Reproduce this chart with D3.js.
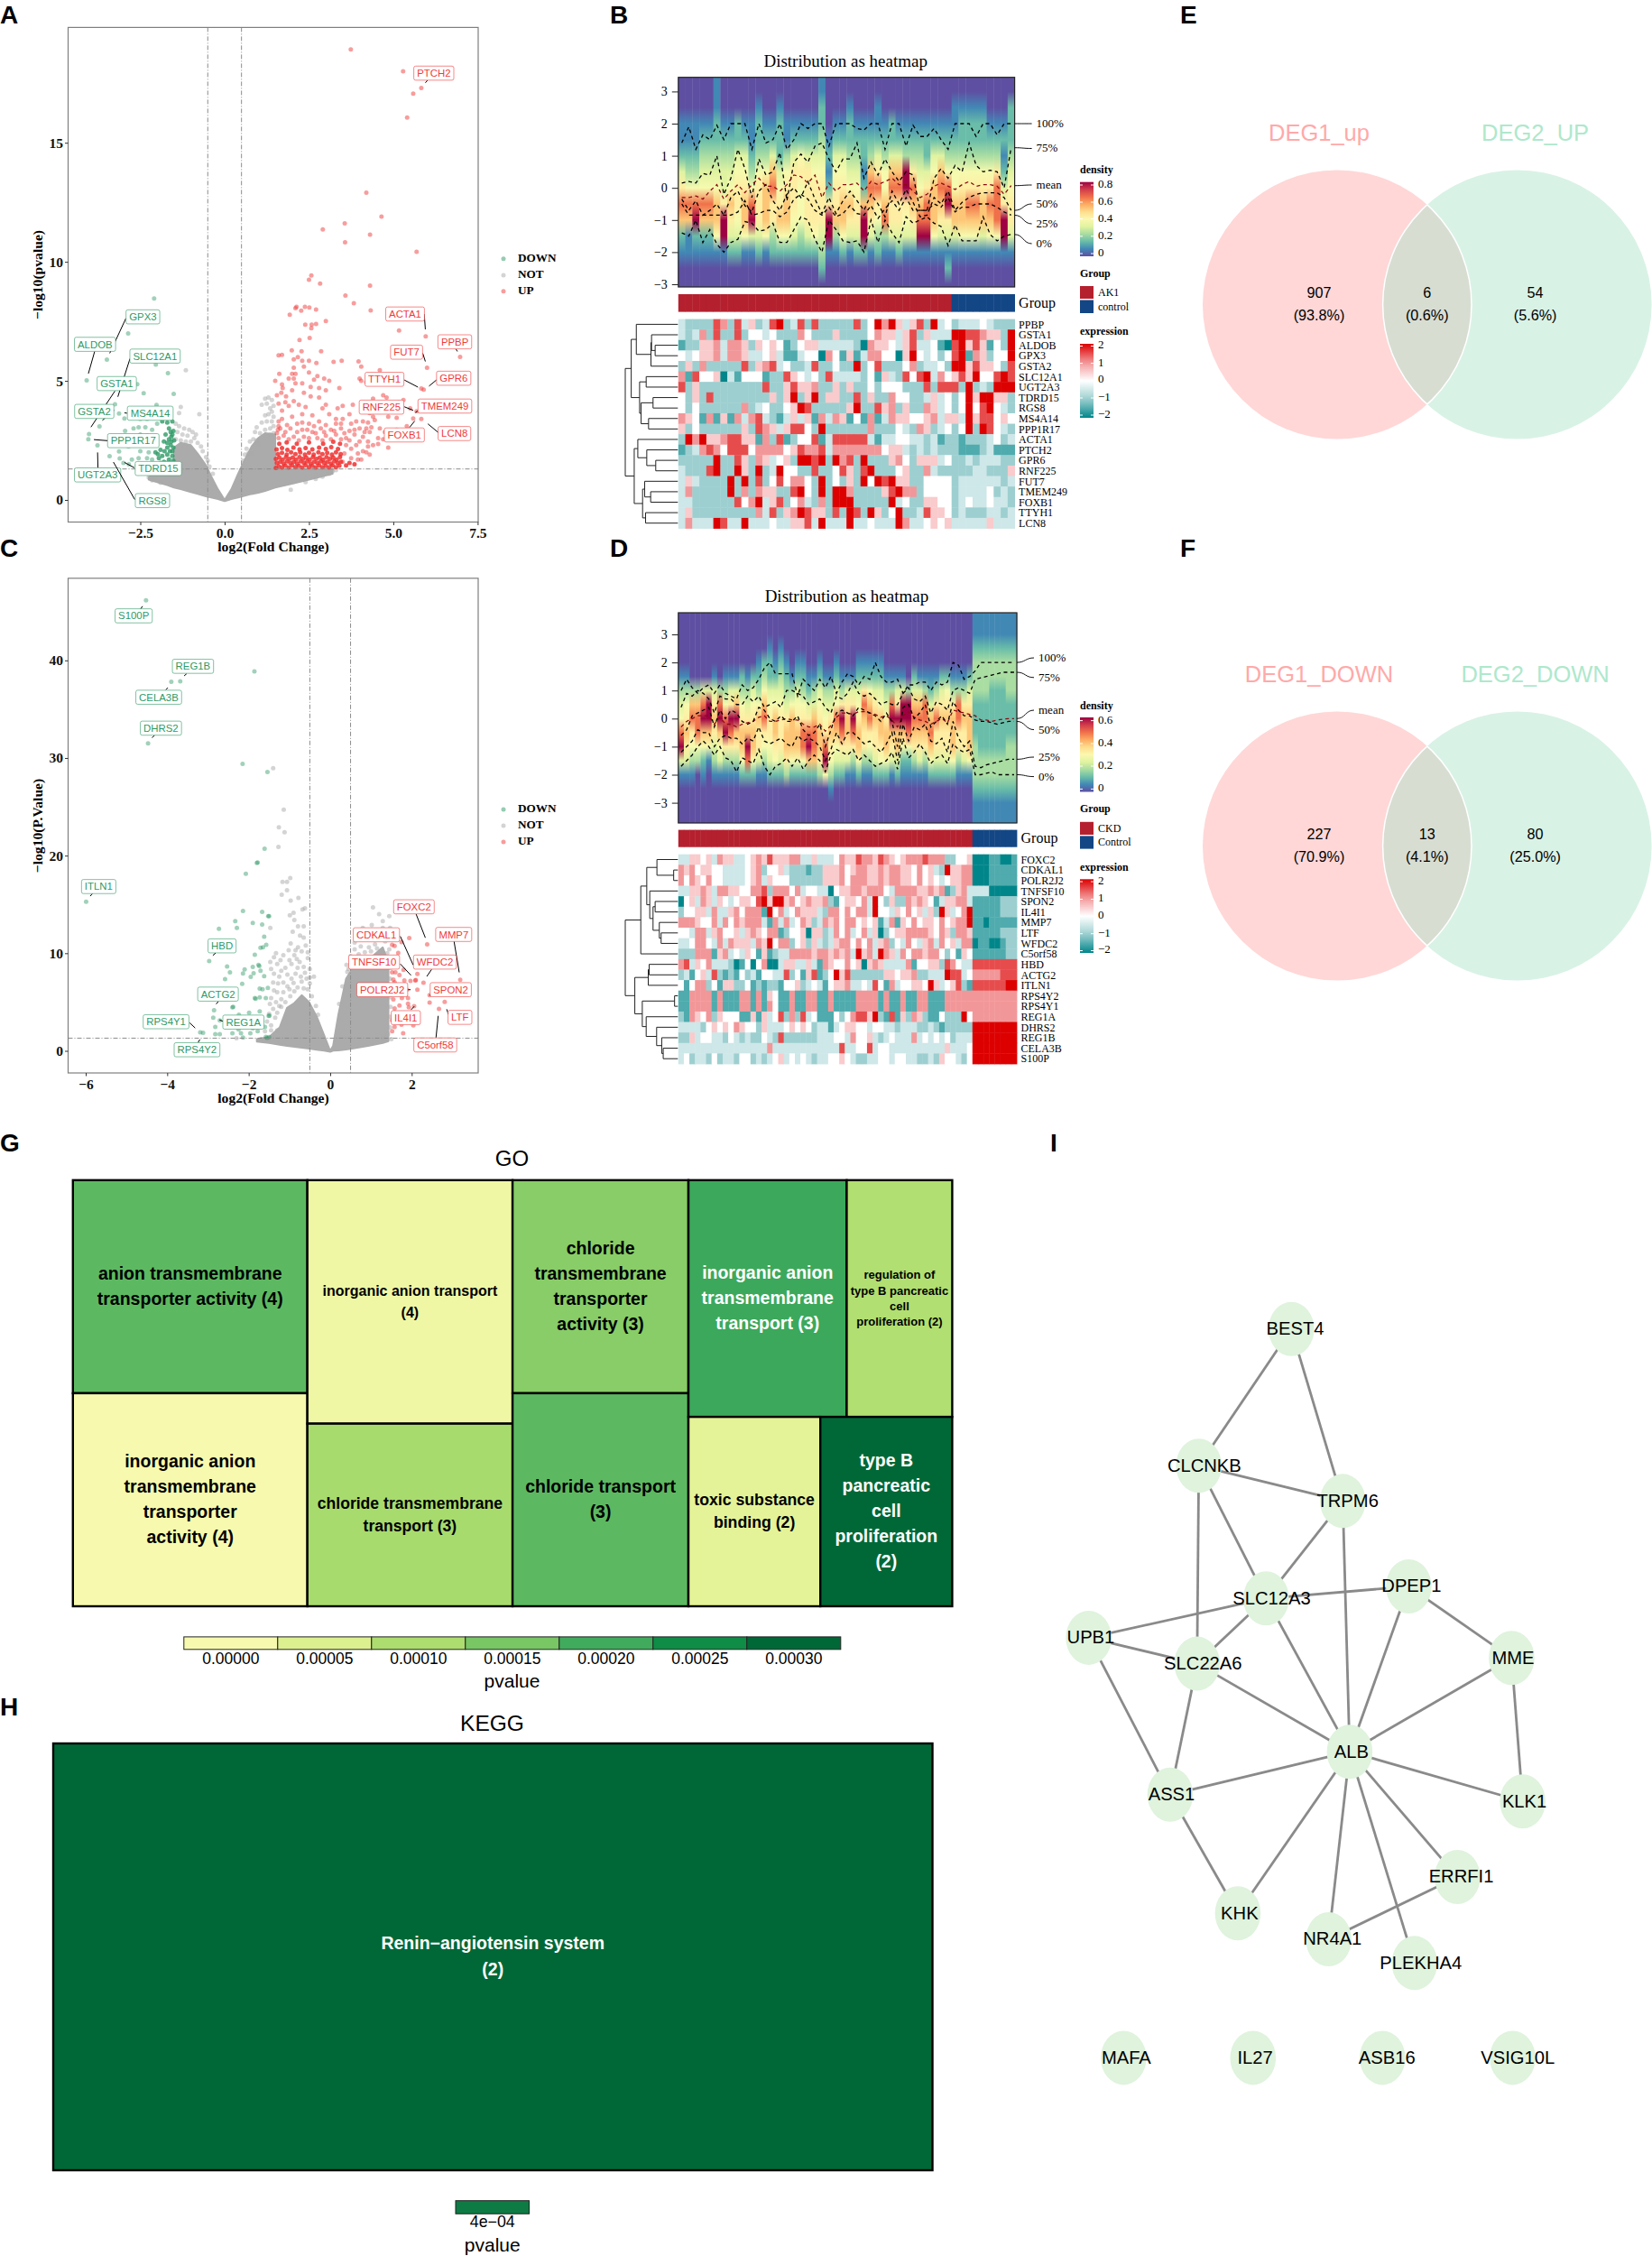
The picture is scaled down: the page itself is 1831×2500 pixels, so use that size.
<!DOCTYPE html>
<html><head><meta charset="utf-8">
<script src="https://cdnjs.cloudflare.com/ajax/libs/d3/7.8.5/d3.min.js"></script>
<style>html,body{margin:0;padding:0;background:#fff}svg{display:block}</style></head><body>
<svg id="c" width="1831" height="2500"></svg>
<script>
const SERIF="'Liberation Serif',serif",SANS="'Liberation Sans',sans-serif";
// ---------- Panel A values (log2FC, -log10 p) ----------
const upA=[[3.74,18.92],[5.29,18],[5.83,17.3],[5.59,17.06],[5.41,16.06],[4.2,12.9],[4.65,11.9],[3.56,11.62],[2.91,11.36],[4.31,11.14],[3.57,10.82],[5.69,10.42],[2.57,9.43],[2.5,9.25],[2.83,9.09],[4.31,9],[3.58,8.58],[3.83,8.26],[4.33,7.96],[2.13,8.11],[2.1,8.05],[2.38,8.11],[2.51,8.08],[2.71,8],[2.27,7.95],[1.93,7.78],[3,7.51],[2.39,7.36],[2.58,7.36],[2.71,7.39],[2.57,7.21],[5.17,7.12],[5.96,6.87],[2.22,6.72],[2.52,6.8],[6.98,6.01],[6,5.55],[5.9,4.63],[5.83,4.68],[5.69,3.72],[5.59,3.42],[5.83,3.4],[2.86,6.24],[2.28,6.24],[1.99,6.28],[1.7,6.09],[1.6,6.07],[2.17,6],[2.05,5.9],[2.3,5.85],[2.5,5.85],[2.72,5.75],[3.23,5.8],[3.47,5.85],[3.97,5.82],[4.05,5.6],[4.6,5.45],[2.05,5.55],[2.35,5.6],[2.1,5.3],[2.05,5.1],[2.5,5.35],[2,5.3],[1.9,5.1],[1.62,5.3],[1.5,5],[2.75,5.2],[2.65,5.05],[2.95,5.1],[3.1,5],[4,5.1],[4.2,4.95],[4.05,5],[3.4,4.7],[3,4.6],[2.8,4.7],[2.55,4.75],[1.7,4.85],[1.72,4.7],[1.68,4.5],[1.55,4.4],[1.82,4.35],[2.1,4.9],[2.3,4.9],[2,4.6],[2.35,4.5],[2.55,4.35],[2.8,4.3],[2.05,4.15],[2.2,4],[1.8,4.1],[1.9,3.95],[1.6,4.05],[1.7,3.75],[2.4,3.9],[2.9,3.85],[3,4],[3.35,3.85],[3.5,3.95],[3.8,4],[4.3,4.05],[4.4,4.25],[4.7,4.4],[4.8,4.3],[5.3,4.2],[5.15,4.1],[5.5,3.85],[4.5,3.95],[4.9,3.85],[5.2,3.7],[4.1,3.7],[4.3,3.65],[4.4,3.5],[4.85,3.5],[5.1,3.45],[3.5,3.4],[3.3,3.4],[3.1,3.6],[2.6,3.55],[2.3,3.6],[2,3.5],[1.7,3.4],[1.6,3.3],[2.15,3.2],[2.5,3.2],[2.8,3.3],[3.3,3.2],[3.7,3.6],[3.9,3.3],[4.1,3.3],[4.25,3.25],[4.45,3.35],[5.1,2.95],[5.4,3.1],[4,3],[4.2,3],[3.7,2.9],[3.45,3],[3.15,2.95],[2.85,3],[2.6,2.85],[2.3,2.95],[1.95,3],[1.65,3],[1.55,2.8],[1.75,2.7],[2.05,2.65],[2.35,2.65],[2.75,2.6],[3,2.7],[3.3,2.75],[3.6,2.6],[3.85,2.75],[4.1,2.65],[4.3,2.85],[4.55,2.6],[4.7,2.55],[4.4,2.3],[4.85,2.2],[4.2,2],[4.05,1.7],[3.9,2.3],[3.95,1.95],[3.75,2.15],[3.75,1.75],[3.6,2.3],[3.55,1.95],[3.5,1.6],[1.6,2.6],[1.9,2.55],[2.2,2.5],[2.5,2.6],[2.9,2.5],[3.15,2.55],[3.45,2.55],[3.7,2.5],[4,2.45],[4.25,2.45],[1.58,2.95],[1.8,2.85],[2.15,2.85],[2.45,2.95],[2.7,2.8],[2.95,2.85],[3.25,2.9],[3.55,2.8],[3.85,2.95],[4.15,2.85],[1.6,3.1],[1.85,3.15],[2.3,3.25],[2.65,3.1],[3,3.15],[3.45,3.2],[3.75,3.2],[4.35,3.05],[4.6,3],[4.75,2.85],[4.55,2.35],[4.25,2.25],[4.1,2.05],[4.3,1.9],[3.95,1.7]];
const upDenseA=[[1.52,1.35],[1.6,1.42],[1.7,1.36],[1.8,1.44],[1.9,1.36],[2,1.45],[2.1,1.37],[2.2,1.43],[2.3,1.36],[2.4,1.46],[2.5,1.37],[2.6,1.43],[2.7,1.36],[2.8,1.45],[2.9,1.37],[3,1.43],[3.1,1.36],[3.2,1.45],[3.3,1.37],[3.4,1.44],[1.55,1.55],[1.65,1.6],[1.75,1.53],[1.85,1.62],[1.95,1.54],[2.05,1.6],[2.15,1.53],[2.25,1.62],[2.35,1.55],[2.45,1.62],[2.55,1.53],[2.65,1.6],[2.75,1.54],[2.85,1.62],[2.95,1.55],[3.05,1.6],[3.15,1.53],[3.25,1.62],[3.35,1.55],[3.45,1.6],[1.52,1.72],[1.62,1.78],[1.72,1.7],[1.82,1.8],[1.92,1.72],[2.02,1.78],[2.12,1.7],[2.22,1.8],[2.32,1.72],[2.42,1.78],[2.52,1.7],[2.62,1.8],[2.72,1.72],[2.82,1.78],[2.92,1.7],[3.02,1.8],[3.12,1.72],[3.22,1.78],[3.32,1.7],[3.42,1.8],[3.6,1.45],[3.7,1.55],[3.85,1.5],[1.58,1.92],[1.7,1.98],[1.84,1.9],[1.97,2],[2.1,1.92],[2.24,2],[2.38,1.9],[2.5,1.98],[2.64,1.9],[2.78,2],[2.9,1.92],[3.04,1.98],[3.18,1.9],[3.3,2],[3.44,1.92],[1.54,2.12],[1.7,2.18],[1.86,2.1],[2.04,2.2],[2.22,2.12],[2.4,2.18],[2.6,2.12],[2.8,2.2],[3,2.14],[3.16,2.22],[3.36,2.14],[1.62,2.36],[1.84,2.42],[2.14,2.36],[2.5,2.42],[2.92,2.36],[3.22,2.44],[3.42,2.36]];
const downA=[[-2.09,8.46],[-2.86,6.99],[-3.49,5.89],[-2.04,5.68],[-1.68,5.32],[-4.09,5.02],[-2.59,4.86],[-2.4,4.48],[-1.51,4.45],[-2.02,3.99],[-3.25,4.02],[-3.13,3.63],[-2.97,3.42],[-3.71,3.09],[-4.02,2.77],[-4.04,2.55],[-3.77,2.29],[-3.41,1.84],[-3.13,2.04],[-3.11,1.74],[-2.84,1.5],[-2.3,3.8],[-2.5,3.4],[-2.3,3.4],[-2.1,3.5],[-1.9,3.6],[-2,3.2],[-2.7,3],[-2.55,3.05],[-2.35,3.05],[-2.15,2.95],[-2.95,2.9],[-2.75,2.6],[-2.5,2.75],[-2.3,2.7],[-2.05,2.45],[-2.3,2.3],[-2.55,2.3],[-2.85,2.25],[-2.5,2.05],[-2.25,2],[-2.15,1.7],[-2.3,1.75],[-2.55,1.75],[-2.75,1.7],[-3,1.55],[-2.6,1.45],[-2.3,1.45]];
const downDenseA=[[-1.85,3.3],[-1.7,3.25],[-1.55,3.3],[-1.65,3],[-1.6,2.85],[-1.75,2.75],[-1.55,2.75],[-1.65,2.55],[-1.8,2.45],[-1.6,2.3],[-1.5,2.5],[-1.7,2.2],[-1.55,2.05],[-1.9,2.1],[-2.05,2],[-1.85,1.85],[-1.7,1.9],[-1.55,1.85],[-1.52,1.65],[-1.65,1.7],[-1.8,1.6],[-1.95,1.75],[-2.1,1.5],[-1.95,1.45],[-1.75,1.42],[-1.6,1.4],[-1.52,1.4],[-1.85,1.38],[-2.05,1.35],[-1.62,1.55],[-1.72,1.55],[-1.9,1.55],[-1.58,2.65],[-1.7,2.4],[-1.58,2.45],[-1.52,2.9],[-1.52,2.2],[-1.62,2.05],[-1.78,2.05],[-1.98,1.92],[-2.15,1.45]];
const notA=[[-1.15,5.45],[-1.35,3.65],[-.75,3.6],[-1.3,3.9],[-1.45,3.2],[-1.35,3.1],[-1.2,3],[-1.05,2.95],[-.95,2.85],[-.85,2.75],[-1.4,2.85],[-1.25,2.75],[-1.1,2.7],[-.9,2.6],[-.8,2.4],[-.7,2.25],[-.65,2.05],[-.55,1.8],[-.5,1.65],[-1.45,2.55],[-1.3,2.5],[-.45,1.4],[-.35,1.1],[-1,2.45],[-1.15,2.45],[1.2,4.25],[1.3,4.3],[1.25,4.05],[1.4,4.2],[1.45,3.95],[1.35,3.85],[1.1,4],[1.4,3.7],[1.3,3.6],[1.2,3.55],[1.45,3.5],[1.4,3.3],[1.25,3.3],[1.1,3.25],[.95,3.05],[1.45,3.1],[1.35,3],[1.2,2.95],[1.05,2.8],[.9,2.85],[.85,2.55],[.75,2.45],[.65,2.15],[.6,1.9],[1.45,2.8],[1.35,2.75],[.55,1.65],[1.96,.43],[3.2,1.2],[3.1,1.1],[-2.25,.95],[-2.1,.85],[3.3,1.25],[2.9,.98],[2.4,.75],[2.7,.88],[-1.9,.72],[-2.15,.82],[.8,1.95],[1,2.35],[.95,2.5],[.7,1.95]];
// grey core envelope of panel A: x, top, bottom
const coreAx=[-2.25,-2,-1.7,-1.5,-1.5,-1.3,-1,-.8,-.55,-.4,-.2,0,.2,.4,.6,.8,1,1.2,1.5,1.5,2,2.5,3.2,3.2];
const coreAtop=[.95,1.25,1.3,1.3,2.2,2.4,2.3,1.95,1.45,1,.45,0,.45,1.1,1.7,2.25,2.6,2.8,2.75,1.3,1.3,1.3,1.3,1.15];
const coreAbot=[.85,.75,.62,.52,.52,.45,.33,.25,.15,.1,.04,-.05,.04,.1,.18,.25,.3,.38,.52,.52,.68,.85,1.1,1.15];
// ---------- Panel C values ----------
const downC=[[-4.52,46.15],[-1.86,38.87],[-3.68,37.85],[-3.9,37.8],[-4.47,31.5],[-2.15,29.4],[-1.54,28.57],[-1.61,20.7],[-1.8,19.25],[-1.78,19.3],[-2.07,18.15],[-5.99,15.28],[-2.14,14.34],[-1.67,14.23],[-1.52,13.8],[-1.5,13.8],[-2.33,13.3],[-1.9,13.1],[-1.67,12.94],[-2.29,12.6],[-2.73,12.5],[-1.62,11.7],[-1.57,10.87],[-1.71,10.57],[-1.65,10.6],[-1.85,9.85],[-2.97,9.2],[-1.76,8.8],[-1.74,8.7],[-2.53,8.64],[-1.9,8.6],[-2.1,8.34],[-2.46,8.04],[-1.71,8.2],[-2.14,7.92],[-1.88,7.96],[-1.95,7.58],[-2.58,7.36],[-1.62,7.66],[-2.16,6.87],[-1.73,6.38],[-1.66,6.3],[-1.53,6.45],[-1.85,5.4],[-1.83,5.35],[-1.73,5.47],[-1.58,5.4],[-2.85,4.15],[-2.4,4.45],[-2.38,4.5],[-2.24,3.7],[-1.99,3.9],[-1.73,4.04],[-1.51,3.58],[-1.49,3.6],[-2.87,3.4],[-2.71,3.13],[-2.82,2.45],[-3.19,1.89],[-3.12,1.85],[-2.82,1.7],[-2.71,1.7],[-2.4,1.81],[-2.19,1.81],[-1.96,1.81],[-1.78,2],[-1.58,1.43],[-2.14,1.36],[-1.6,2.45],[-1.5,1.4],[-1.55,1.35],[-1.85,2.7],[-2.05,3.1],[-1.68,3.05],[-2.35,2.6],[-2.25,2.2],[-1.9,2.3]];
const upC=[[2.38,10.9],[1.94,11.55],[1.75,11.13],[1.52,10.87],[1.58,10.75],[1.67,10.04],[1.57,8.8],[1.52,8.04],[1.6,8.04],[1.7,7.77],[2.14,7.89],[3.19,7.28],[2.29,6.98],[2.1,7.25],[2.09,7.2],[1.97,7.17],[1.82,7.2],[1.58,7.02],[1.7,6.72],[2.14,6.26],[1.88,6.26],[1.75,6.19],[1.58,6.26],[2.44,5.7],[1.91,5.4],[1.76,5.4],[1.55,5.28],[2.44,4.94],[2.81,5.02],[1.91,4.83],[1.7,4.64],[1.58,4.34],[2.06,4.57],[2.67,4.3],[1.93,4.45],[1.75,3.89],[1.64,3.5],[1.52,3.13],[1.58,2.45],[1.75,2.68],[2.04,2.6],[1.79,1.81],[1.52,2],[1.88,3.13],[2.15,3.4],[1.95,3.7],[1.6,9.4],[1.8,8.3],[1.55,7.3]];
const notC=[[-1.14,24.7],[-1.4,28.95],[-1.26,22.9],[-1.12,22.4],[-1.27,20.9],[-1.17,17.3],[-1.06,17.3],[-.98,17.7],[-1.06,16.45],[-1.19,16],[-.78,15.66],[-.97,15.4],[-.62,14.6],[-.68,14.5],[-.9,14.15],[-.99,13.9],[-.88,13.4],[-1.47,12.6],[-.79,12.75],[-.65,12.75],[-.92,12.2],[-.74,11.8],[-.65,11.6],[-.97,11],[-.6,10.8],[-.79,10.6],[-1.33,10],[-1.47,9.1],[-1.15,9.8],[-.88,9.8],[-1.45,8.4],[-1.3,8.9],[-1.1,8.5],[-.95,8.9],[-.75,9.1],[-.55,9.5],[-.5,8.4],[-.62,8],[-.85,7.9],[-1.05,7.8],[-1.25,7.6],[-1.4,7],[-1.15,7],[-.9,6.95],[-.7,7.1],[-.5,6.9],[-.4,7.6],[-.55,6.3],[-1,6.3],[-1.3,6],[-1.45,5.4],[-1.2,5.3],[-.98,5.6],[-1.4,4.3],[-1.2,4.5],[-1.35,3.4],[-1.45,2.6],[-1.3,2.1],[-1.1,5],[-.45,5.6],[-.35,4.6],[-.3,3.7],[-.5,7.5],[-1.02,10.3],[-.85,10.3],[-.7,10.2],[-.55,10.1],[-.82,9.4],[-1,9.3],[-1.22,9.3],[-1.38,9.6],[-.65,8.6],[-.8,8.5],[-1.2,8.2],[-1.38,7.9],[-.95,7.4],[-.72,7.6],[-.58,7.4],[-1.28,6.9],[-1.05,6.6],[-.8,6.5],[-.65,6.4],[-1.38,6.2],[-1.15,6],[-.88,6.1],[-1.33,5],[-1.25,4.6],[-1.48,4.8],[-1.5,3.8],[-1.3,3.9],[-1.55,3],[-1.45,2.1],[-1.6,2],[1.05,14.7],[1.2,14],[1.45,13.8],[1.29,13.3],[1.02,12.9],[.8,12.6],[.93,12.2],[1.47,12.6],[1.29,12.6],[1.1,12.1],[1.4,11.9],[.7,11.9],[.6,11.1],[.9,11.5],[1.2,11.5],[1.35,11.2],[.6,10.4],[.75,10.7],[.95,10.6],[1.1,10.9],[.5,9.7],[.65,9.6],[.55,9],[.4,8.8],[1.45,10.4],[1.47,9.5],[1.48,8.5],[1.47,7.4],[1.48,6.4],[1.47,5.5],[1.48,4.5],[1.47,3.5],[1.47,2.4],[1.42,1.7],[1.5,1.2],[1.3,1.3],[-1.55,1.1],[-1.7,1.2],[-2.3,1.3],[.85,10.1],[.7,9.9],[1.0,10.2],[1.15,10.5],[.42,8.1],[.3,6.6],[.22,4.8],[1.4,10],[.45,8.4]];
const coreCx=[-1.8,-1.5,-1.24,-1.06,-.88,-.7,-.52,-.33,-.15,0,.07,.2,.39,.57,.93,1.29,1.43,1.43];
const coreCtop=[1.2,1.4,2.4,4.4,4.9,5.7,5,3.5,1.6,0,.5,3.7,7.4,8.6,9.3,10.6,9,1];
const coreCbot=[.95,.8,.62,.5,.42,.32,.22,.12,.02,-.1,.02,.05,.14,.25,.5,.8,1,1];
// label boxes: text, box centre, connector ends (layout in the 1568-wide crop space)
const labelsA=[["PTCH2",1178,205,1161,225,1155,232,1],["GPX3",388,888,342,892,298,990,0],["ALDOB",258,965,257,985,240,1047,0],["SLC12A1",421,998,353,1005,320,1112,0],["GSTA1",317,1075,312,1096,247,1197,0],["GSTA2",256,1153,310,1150,278,1178,0],["MS4A14",408,1158,345,1158,338,1157,0],["PPP1R17",362,1235,292,1235,255,1232,0],["TDRD15",430,1313,365,1311,338,1296,0],["UGT2A3",265,1331,266,1311,265,1268,0],["RGS8",414,1403,366,1400,308,1295,0],["ACTA1",1100,880,1152,880,1155,923,1],["PPBP",1235,958,1238,978,1242,985,1],["FUT7",1104,987,1148,990,1155,1013,1],["GPR6",1232,1060,1185,1065,1165,1082,1],["TTYH1",1044,1063,1098,1065,1135,1085,1],["RNF225",1036,1141,1098,1140,1122,1150,1],["TMEM249",1208,1138,1134,1152,1128,1156,1],["LCN8",1234,1215,1190,1212,1162,1188,1],["FOXB1",1098,1219,1112,1198,1126,1180,1]];
const labelsC=[["S100P",363,202,382,183,387,176,0],["REG1B",524,339,500,365,507,359,0],["CELA3B",431,423,450,403,456,397,0],["DHRS2",437,507,413,533,420,526,0],["ITLN1",268,937,245,963,251,956,0],["HBD",603,1098,578,1124,586,1117,0],["ACTG2",592,1229,587,1256,593,1249,0],["RPS4Y1",451,1304,515,1307,530,1321,0],["REG1A",661,1305,606,1303,596,1299,0],["RPS4Y2",535,1380,538,1360,543,1352,0],["FOXC2",1124,992,1130,1012,1155,1076,1],["MMP7",1232,1067,1233,1086,1247,1170,1],["CDKAL1",1022,1068,1087,1072,1122,1150,1],["TNFSF10",1016,1142,1087,1147,1116,1178,1],["WFDC2",1181,1142,1172,1162,1159,1181,1],["POLR2J2",1038,1217,1108,1217,1115,1217,1],["SPON2",1224,1217,1168,1230,1167,1233,1],["IL4I1",1102,1293,1116,1272,1125,1262,1],["LTF",1249,1292,1218,1285,1213,1270,1],["C5orf58",1182,1367,1184,1347,1190,1288,1]];
// ---------- Panel B / D heat maps: one digit per cell, 0..8 = -2..2 ----------
const genesB=["PPBP","GSTA1","ALDOB","GPX3","GSTA2","SLC12A1","UGT2A3","TDRD15","RGS8","MS4A14","PPP1R17","ACTA1","PTCH2","GPR6","RNF225","FUT7","TMEM249","FOXB1","TTYH1","LCN8"];
const cellsB=["3222276273"+"5237823727"+"2222272486"+"8535728342"+"33343222",
"3236272272"+"4434222642"+"2252222465"+"5357253338"+"87765528",
"1225563665"+"2545412455"+"3333320655"+"4357334107"+"85751428",
"4345563665"+"3345311344"+"0641513664"+"4058434247"+"81652448",
"2526222227"+"2567342237"+"2242282472"+"2246233428"+"85755427",
"6174450314"+"4412275434"+"2733332415"+"3274783645"+"75844787",
"7252222222"+"2272257556"+"2252522424"+"4422272777"+"28232888",
"4252722222"+"2225258258"+"2552272522"+"6442235342"+"48588552",
"4242222226"+"2342245872"+"2222582275"+"6252265342"+"48478432",
"6541615163"+"6732135351"+"6365141613"+"6554456355"+"38577454",
"5242222225"+"2765357742"+"8222222622"+"2432652342"+"48287432",
"2868556775"+"5162712447"+"1377777313"+"3443323122"+"12223423",
"1236764777"+"4666645766"+"7366666664"+"5532323222"+"11123111",
"2222282275"+"2653452887"+"8286728222"+"5642555342"+"23233322",
"3222782285"+"2823844227"+"2247527822"+"2452263222"+"22332225",
"3532222828"+"2724746642"+"8242528487"+"8552244442"+"33333323",
"3622222826"+"2655227842"+"8288622225"+"7866244442"+"33334232",
"3322222274"+"6835724632"+"6288822222"+"8342255442"+"34334332",
"3522222222"+"2637256875"+"5272872852"+"4822375542"+"32223323",
"3633387338"+"3334335573"+"8333833433"+"3863345453"+"33335333"];
const genesD=["FOXC2","CDKAL1","POLR2J2","TNFSF10","SPON2","IL4I1","MMP7","LTF","WFDC2","C5orf58","HBD","ACTG2","ITLN1","RPS4Y2","RPS4Y1","REG1A","DHRS2","REG1B","CELA3B","S100P"];
const cellsD=["3355453655"+"3345657555"+"6633533346"+"5576657654"+"5666766622"+"445"+"00011001",
"6564554433"+"3345624453"+"2221225556"+"4566556566"+"5546453285"+"566"+"00011111",
"6465464433"+"3345635444"+"2222225556"+"4666556566"+"5546454345"+"566"+"00011111",
"3355653665"+"5446672666"+"4634433045"+"5665666436"+"6665565612"+"563"+"33300000",
"0453653543"+"4554785885"+"6456556214"+"5546384252"+"2656541355"+"663"+"11111222",
"2445536335"+"6466618463"+"4655532664"+"6466384435"+"4645352853"+"468"+"11111222",
"6665446364"+"6566631636"+"3465236564"+"6645451361"+"5464554645"+"668"+"11011111",
"4436635644"+"5356546612"+"4450552364"+"6346350245"+"5666654652"+"665"+"11111222",
"3346643636"+"5553658466"+"2452532356"+"6464635624"+"3643563645"+"366"+"01100122",
"2226661563"+"4354151233"+"6666566565"+"6385638653"+"6466566424"+"154"+"11111122",
"6735463332"+"0140460035"+"5335316544"+"6450565333"+"3614455276"+"433"+"77777777",
"2314537212"+"1423144337"+"2415712485"+"7222222554"+"5562233387"+"734"+"66666777",
"4146624155"+"2241212214"+"4523431455"+"6334374163"+"4455485345"+"721"+"77777788",
"1166661611"+"1661615411"+"6116611611"+"1166661611"+"6116611166"+"666"+"66666666",
"1166661611"+"1661616411"+"6116611611"+"1166661611"+"6116611166"+"666"+"66666666",
"2165462544"+"4115153472"+"6273411142"+"4677582171"+"5265211422"+"284"+"66666666",
"3333245454"+"6544253334"+"5454233134"+"5544344332"+"3332232122"+"222"+"88888888",
"2253443324"+"3232243272"+"2222233344"+"3644532343"+"3363434342"+"333"+"88888888",
"3333333333"+"3333336333"+"3333333337"+"3344734433"+"3333333353"+"334"+"88888888",
"3423324233"+"2442323453"+"4343233445"+"4322334434"+"4332232544"+"324"+"88888888"];
const treeB=[176,[156,[139,"PPBP",[90,[88,"GSTA1",[76,"ALDOB","GPX3"]],"GSTA2"]],[128,[106,"SLC12A1","UGT2A3"],[123,[83,"TDRD15","RGS8"],[98,"MS4A14","PPP1R17"]]]],[146,[134,"ACTA1",[104,"PTCH2",[74,"GPR6","RNF225"]]],[118,[111,"FUT7",[91,"TMEM249","FOXB1"]],[108,"TTYH1","LCN8"]]]];
const treeD=[176,[124,[104,[70,"FOXC2",[14,"CDKAL1","POLR2J2"]],[94,"TNFSF10",[83,[76,"SPON2","IL4I1"],[62,"MMP7",[56,"LTF","WFDC2"]]]]],"C5orf58"],[144,[99,[96,"HBD","ACTG2"],"ITLN1"],[119,[11,"RPS4Y2","RPS4Y1"],[106,"REG1A",[71,"DHRS2",[54,"REG1B",[49,"CELA3B","S100P"]]]]]]];
// density per column at y=3,2.5,...,-3, one digit per level; densRamp gives its place on the colour ramp
const densRamp=[0,.1,.2,.3,.4,.47,.55,.65,.8,1];
const densB=["0011246872100","0011235871100","0011235892100","0012345872100","0012345872100","1122345775100","0012344699100","0012345764200","0022456654200","0012456775100","0011235894100","0122356664200","0012357775100","0012478663200","0122245675200","0011356775200","0012466654200","0012565553200","0012466664200","0012456665200","1223456664320","0001212699100","0012456673100","0012456775200","0122345764100","0012345664200","0012212799200","0012378764100","0112468653200","0012355783100","0022478664100","0012478664200","0012399654100","0012368764100","0012345789100","0012246889100","0012457775100","0012478764100","0012358964120","0112355774100","0122356775100","0122356875100","0122356875100","0122356774100","0012356875100","0012368885100","0012124699100","0222345664100"];
const densD=["0001345894100","0001356764100","0000378653100","0000378853000","0000489752100","0000499751000","0001467643100","0000389754100","0001358963100","0001469863100","0001479763100","0002356775200","0001346798200","0002456775200","0012357664100","0023578653100","0122456654200","0012457765200","0123456664200","0012346776300","0001357775200","0012456775200","0012356885200","0001246897200","0001347887200","0012456776300","0001345689500","0001346765310","0012458754200","0001369864200","0001467764100","0001469863100","0012456775200","0012687663100","0012578653100","0012467664200","0012457765200","0001346775200","0001389764100","0001469774200","0001499752100","0000399852100","0002478763100","0001478764100","0001388763100","0001247875200","0001368664200","0002467664200","0002567664200","0001367775200","0001388663100","0001367664100","0002467775100","1233322233321","1233322223321","1233322223321","1233222223321","1233222223321","1233222223321","1233322233321","1233322233321"];
const densLevels=[3,2.5,2,1.5,1,.5,0,-.5,-1,-1.5,-2,-2.5,-3];
// quantile lines
const qB={q100:[1.4,1.9,1.2,1.65,1.5,1.95,1.5,2,2,2,1.2,2,1.4,1.5,2,1.2,1.5,2,1.85,2,2,1.3,2,2,2,1.85,1.8,2,2,1.2,2,2,1.3,1.95,1.6,1.6,1.85,1.5,1.2,2,2,2,1.6,2,2,1.65,2,2],
q75:[.15,.2,.15,.45,.4,1,-.2,.3,1.2,.6,-.3,.9,.4,.5,1.1,-.4,.8,1.05,.8,1.3,1.4,.9,.5,.9,.9,1.4,.3,.8,.4,.9,.5,.2,.5,.4,-.7,-.7,.3,.6,.3,.7,.5,1.4,.7,.5,.55,.5,0,1.25],
mean:[-.3,-.3,-.25,-.35,-.1,.1,-.35,-.1,.1,-.15,.1,.3,.05,.05,-.1,.1,.4,.35,.15,.4,-.3,.15,-.1,.1,.1,.15,-.1,.2,.1,.2,.3,.1,.1,-.1,-.3,-.2,.05,.15,.05,-.05,.1,.2,.05,.1,.1,.05,-.2,.07],
q50:[-.35,-.7,-.4,-.85,-.7,-.5,-.85,-.3,-.1,-.55,-.75,-.1,.1,-.4,-.7,-.2,0,-.3,.2,-.35,-.8,-.3,-.8,-.4,-.1,-.4,-.7,-.2,-.5,-.9,-.1,-.5,-.05,-.45,-.9,-.85,-.3,-.5,-.1,-.7,-.45,-.3,-.2,-.15,-.15,-.15,-.3,-.7],
q25:[-.5,-.85,-.85,-.85,-.85,-.85,-.85,-.85,-.75,-.4,-.85,-.8,-.7,-.7,-.9,-.75,-.35,-.2,-.35,-.7,-.85,-.6,-.9,-.8,-.55,-.8,-.85,-.55,-.95,-.65,-.4,-.7,-.3,-.7,-.7,-.7,-.5,-.6,-.3,-.75,-.6,-.6,-.5,-.5,-.5,-.6,-.75,-.85],
q0:[-1.4,-1.5,-1,-1.7,-1.3,-1.75,-2,-1.7,-1.6,-1.05,-1.1,-1.35,-1.3,-1.1,-1.7,-1.7,-1.3,-.9,-1,-1.6,-2,-1,-1.3,-1.65,-1.7,-1.65,-2,-1,-1.7,-1,-1.4,-1.7,-.9,-1.1,-1,-.9,-1.1,-1.2,-1.8,-1.15,-1.65,-1.65,-1.65,-.9,-1.45,-1.65,-1.5,-1.45]};
const qD={q100:[1,1.4,1.1,.9,1.1,1.2,.9,1.2,.9,.8,.7,1.2,1,1.1,1.4,1.8,2,1.6,1.6,1.6,1.6,.8,1.4,1.2,1,1.4,1.1,1.5,.9,1.3,1.6,1.5,1.2,1.5,1.4,2,1.5,1.3,1.3,1.4,.9,1.2,1.2,1.3,1.3,1,1.3,1.2,1.3,2,1.9,1.4,1.5,1.7,2,2,2,2,2,2,2],
q75:[.4,.9,.8,1,.9,.7,.2,.8,.7,.7,.5,.5,.8,.6,.8,.4,.5,.6,.4,1,1,.9,.8,.5,.6,.7,.4,.2,.8,.7,.9,1.3,.9,.8,.9,.7,.5,.6,.5,.5,.9,1.1,.7,.6,.8,.2,.6,.5,.3,1,1.1,1,.9,1.4,1.45,1.5,1.55,1.6,1.65,1.65,1.65],
mean:[-.3,-.1,0,.1,.1,.1,-.2,.05,-.2,-.2,-.3,-.2,-.15,-.1,.05,.1,-.1,-.1,-.05,0,-.05,-.05,-.2,-.3,-.3,-.2,-.45,-.25,.05,.2,.2,.15,.25,.25,.2,.15,.05,.1,-.05,-.3,.1,.25,.05,-.05,-.1,-.2,-.1,0,-.15,.3,.25,.2,.15,.1,-.05,-.05,-.1,-.05,-.02,0,0],
q50:[-.6,-.4,.1,.2,.3,.4,-.3,.3,0,.3,.2,-.1,-.2,-.1,.4,.3,0,-.1,.1,-.1,-.1,.1,-.4,-.6,-.5,-.2,-1,-.4,.2,.3,.2,.1,.4,.3,.2,.1,-.1,.2,-.1,-1,.4,.5,0,.2,.5,-.3,-.1,.1,-.2,.6,.3,.1,.1,-.05,-.1,-.1,-.15,-.2,-.15,-.1,-.1],
q25:[-1.2,-1,-.8,-.4,-.5,-.5,-1,-.7,-.6,-.7,-.7,-.9,-.7,-.8,-.3,-.8,-.9,-.8,-.7,-.9,-1,-.6,-.8,-.7,-.8,-1,-1.5,-1.1,-.5,-.9,-.5,-.5,-.7,-.9,-.8,-1,-1.2,-.9,-.5,-1.5,-.2,-.8,-.3,-.4,-.2,-.8,-.9,-.7,-1.2,-.1,-.7,-1,-.8,-1.7,-1.75,-1.65,-1.6,-1.55,-1.5,-1.45,-1.45],
q0:[-1.7,-1.5,-1.3,-1,-.8,-1,-1.3,-1,-1.4,-1.5,-1.9,-1.4,-1.5,-1.6,-1.1,-1.7,-2,-1.7,-1.6,-1.4,-1.7,-1.4,-1.8,-1.5,-1.3,-1.5,-1.9,-1.3,-1.1,-1.2,-1.3,-1.1,-1.5,-1.3,-1.5,-1.7,-1.6,-1.5,-1.2,-1.8,-.7,-1.4,-1.2,-.9,-1.2,-1.6,-1.4,-1.3,-1.6,-.9,-1.1,-1.2,-1.1,-2,-2,-1.95,-1.9,-2,-2,-2,-2]};
const qKeys=["q100","q75","mean","q50","q25","q0"],qNames=["100%","75%","mean","50%","25%","0%"];
// ---------- Venn ----------
const vennE={a:"DEG1_up",b:"DEG2_UP",n:["907","6","54"],p:["(93.8%)","(0.6%)","(5.6%)"]};
const vennF={a:"DEG1_DOWN",b:"DEG2_DOWN",n:["227","13","80"],p:["(70.9%)","(4.1%)","(25.0%)"]};
// ---------- Treemaps ----------
const goTree={children:[
{children:[{name:"anion",lines:["anion transmembrane","transporter activity (4)"],n:4,p:.00018,fs:19.5,lh:28},{name:"iatta",lines:["inorganic anion","transmembrane","transporter","activity (4)"],n:4,p:.000005,fs:19.5,lh:28}]},
{children:[{name:"iat",lines:["inorganic anion transport","(4)"],n:4,p:.00002,fs:16,lh:24},{name:"ctt",lines:["chloride transmembrane","transport (3)"],n:3,p:.00011,fs:17.6,lh:25.5}]},
{children:[{name:"ctta",lines:["chloride","transmembrane","transporter","activity (3)"],n:3,p:.00014,fs:19.5,lh:28},{name:"ct",lines:["chloride transport","(3)"],n:3,p:.00018,fs:19.5,lh:28}]},
{children:[{children:[{name:"iatt",lines:["inorganic anion","transmembrane","transport (3)"],n:3,p:.00021,fs:19.5,lh:28,w:1},{name:"reg",lines:["regulation of","type B pancreatic","cell","proliferation (2)"],n:2,p:.0001,fs:13,lh:17.3}]},{children:[{name:"tox",lines:["toxic substance","binding (2)"],n:2,p:.00004,fs:17.7,lh:25},{name:"typeB",lines:["type B","pancreatic","cell","proliferation","(2)"],n:2,p:.00033,fs:19.5,lh:28,w:1}]}]}]};
const keggTree={children:[{children:[{lines:["Renin−angiotensin system","(2)"],n:2,p:.0004,fs:19.5,lh:28.5,w:1}]}]};
const pTicks=["0.00000","0.00005","0.00010","0.00015","0.00020","0.00025","0.00030"];
const pColors=["#F7FAAE","#DDF08F","#ADDD6E","#78C664","#41AB5D","#0F8C46","#006837"];
// ---------- Network ----------
const nodes=["BEST4","CLCNKB","TRPM6","SLC12A3","DPEP1","UPB1","SLC22A6","MME","ALB","ASS1","KLK1","ERRFI1","KHK","NR4A1","PLEKHA4","MAFA","IL27","ASB16","VSIG10L"];
const nodeX=[735,467,884,662,1075,148,462,1373,904,384,1405,1216,580,843,1092,249,624,999,1376];
const nodeY=[92,356,424,612,589,688,738,727,908,991,1004,1150,1220,1270,1316,1499,1499,1499,1499];
const nodeLabelX=[750,487,902,682,1087,158,483,1381,913,392,1414,1231,589,858,1114,261,634,1016,1395];
const edges=[["BEST4","CLCNKB"],["BEST4","TRPM6"],["CLCNKB","TRPM6"],["CLCNKB","SLC12A3"],["CLCNKB","SLC22A6"],["TRPM6","SLC12A3"],["TRPM6","ALB"],["SLC12A3","DPEP1"],["SLC12A3","UPB1"],["SLC12A3","SLC22A6"],["SLC12A3","ALB"],["DPEP1","ALB"],["DPEP1","MME"],["MME","ALB"],["MME","KLK1"],["UPB1","SLC22A6"],["UPB1","ASS1"],["SLC22A6","ASS1"],["SLC22A6","ALB"],["ASS1","ALB"],["ASS1","KHK"],["KHK","ALB"],["NR4A1","ALB"],["NR4A1","ERRFI1"],["PLEKHA4","ALB"],["ERRFI1","ALB"],["KLK1","ALB"]];

const svg=d3.select("#c"),defs=svg.append("defs");
svg.append("rect").attr("width",1831).attr("height",2500).attr("fill","#fff");
[["A",0,26],["B",676,26],["C",0,617],["D",676,617],["E",1308,26],["F",1308,617],["G",0,1276],["H",0,1901],["I",1164,1276]].forEach(d=>
 svg.append("text").text(d[0]).attr("x",d[1]).attr("y",d[2]).attr("font-family",SANS).attr("font-weight","bold").attr("font-size",28));

// ---------- Volcano ----------
function volcano(c){
 const g=svg.append("g");
 const x=d3.scaleLinear().domain(c.xd).range(c.xr),y=d3.scaleLinear().domain([0,c.yref]).range(c.yr);
 g.append("rect").attr("x",75.5).attr("y",c.top).attr("width",454.5).attr("height",c.bottom-c.top).attr("fill","#fff");
 const clip="clip"+c.id;
 defs.append("clipPath").attr("id",clip).append("rect").attr("x",75.5).attr("y",c.top).attr("width",454.5).attr("height",c.bottom-c.top);
 const body=g.append("g").attr("clip-path",`url(#${clip})`);
 const area=d3.area().x(d=>x(d[0])).y0(d=>y(d[2])).y1(d=>y(d[1]));
 body.append("path").attr("d",area(d3.zip(c.core[0],c.core[1],c.core[2]))).attr("fill","#ABABAB").attr("stroke","#ABABAB").attr("stroke-width",2).attr("stroke-linejoin","round");
 const dots=(data,col,op)=>body.append("g").selectAll("circle").data(data).join("circle").attr("cx",d=>x(d[0])).attr("cy",d=>y(d[1])).attr("r",2.5).attr("fill",col).attr("fill-opacity",op);
 dots(c.not,"#A9A9A9",.5);dots(c.down,"#2E9A66",.45);dots(c.downDense,"#2E9A66",.8);dots(c.up,"#F03B3B",.5);dots(c.upDense,"#EE3030",.85);
 [-.5,.5].forEach(v=>body.append("line").attr("x1",x(v)).attr("x2",x(v)).attr("y1",c.top).attr("y2",c.bottom).attr("stroke","#8c8c8c").attr("stroke-dasharray","5 2 1 2").attr("stroke-width",1));
 body.append("line").attr("x1",75.5).attr("x2",530).attr("y1",y(1.3)).attr("y2",y(1.3)).attr("stroke","#8c8c8c").attr("stroke-dasharray","5 2 1 2").attr("stroke-width",1);
 g.append("rect").attr("x",75.5).attr("y",c.top).attr("width",454.5).attr("height",c.bottom-c.top).attr("fill","none").attr("stroke","#7f7f7f").attr("stroke-width",1.2);
 const ax=g.append("g").attr("transform",`translate(0,${c.bottom})`).call(d3.axisBottom(x).tickValues(c.xt).tickFormat(c.xf).tickSize(3.5).tickPadding(3));
 const ay=g.append("g").attr("transform",`translate(75.5,0)`).call(d3.axisLeft(y).tickValues(c.yt).tickFormat(d3.format("d")).tickSize(3.5).tickPadding(2));
 [ax,ay].forEach(a=>{a.select(".domain").remove();a.selectAll("text").attr("font-family",SERIF).attr("font-weight","bold").attr("font-size",15.5).attr("fill","#111");a.selectAll("line").attr("stroke","#333")});
 g.append("text").text("log2(Fold Change)").attr("x",303).attr("y",c.xtitle).attr("text-anchor","middle").attr("dominant-baseline","middle").attr("font-family",SERIF).attr("font-weight","bold").attr("font-size",15.6);
 g.append("text").text(c.ytitle).attr("transform",`translate(43,${c.ymid}) rotate(-90)`).attr("text-anchor","middle").attr("dominant-baseline","middle").attr("font-family",SERIF).attr("font-weight","bold").attr("font-size",15.6);
 ["DOWN","NOT","UP"].forEach((t,i)=>{const col=["#2E9A66","#A9A9A9","#F03B3B"][i];
  g.append("circle").attr("cx",558).attr("cy",c.leg[i]).attr("r",2.5).attr("fill",col).attr("fill-opacity",.5);
  g.append("text").text(t).attr("x",574).attr("y",c.leg[i]).attr("dominant-baseline","middle").attr("font-family",SERIF).attr("font-weight","bold").attr("font-size",13.2);});
 const lx=d3.scaleLinear().domain([0,1568]).range([0,640]),ly=d3.scaleLinear().domain([0,1568]).range([c.crop[0],c.crop[0]+c.crop[1]]);
 c.labels.forEach(l=>{const col=l[7]?"#F03B3B":"#2E9A66";
  g.append("line").attr("x1",lx(l[3])).attr("y1",ly(l[4])).attr("x2",lx(l[5])).attr("y2",ly(l[6])).attr("stroke","#000").attr("stroke-width",1);
  const r=g.append("rect").attr("fill","#fff").attr("stroke",col).attr("stroke-opacity",.6).attr("stroke-width",1).attr("rx",2);
  const t=g.append("text").text(l[0]).attr("x",lx(l[1])).attr("y",ly(l[2])).attr("text-anchor","middle").attr("dominant-baseline","central").attr("font-family",SANS).attr("font-size",11.4).attr("fill",col);
  const w=t.node().getComputedTextLength()+7;
  r.attr("x",lx(l[1])-w/2).attr("y",ly(l[2])-7.8).attr("width",w).attr("height",15.6);});
}
volcano({id:"A",xd:[-2.5,7.5],xr:[155.5,529.4],yref:15,yr:[554,158.2],top:30.4,bottom:578.5,core:[coreAx,coreAtop,coreAbot],not:notA,down:downA,downDense:downDenseA,up:upA,upDense:upDenseA,xt:[-2.5,0,2.5,5,7.5],xf:d3.format(".1f"),yt:[0,5,10,15],xtitle:607,ytitle:"−log10(pvalue)",ymid:304.5,leg:[286.7,304.9,322.7],labels:labelsA,crop:[0,620]});
volcano({id:"C",xd:[-6,2],xr:[95,456.3],yref:40,yr:[1164.5,731.8],top:640.8,bottom:1189,core:[coreCx,coreCtop,coreCbot],not:notC,down:downC,downDense:[],up:upC,upDense:[],xt:[-6,-4,-2,0,2],xf:d3.format("d"),yt:[0,10,20,30,40],xtitle:1218,ytitle:"−log10(P.Value)",ymid:915,leg:[897,915,933],labels:labelsC,crop:[600,640]});

// ---------- Heat panels ----------
const heatCol=d3.scaleLinear().domain([-2,-1,0,1,2]).range(["#00868A","#9DCFD0","#FFFFFF","#F29799","#DC0000"]);
const densCol=d=>d3.interpolateSpectral(1-densRamp[d]);
function colorBar(g,id,x,y0,y1,fn,ticks,title,titleY){
 const gr=defs.append("linearGradient").attr("id",id).attr("x1",0).attr("x2",0).attr("y1",0).attr("y2",1);
 d3.range(0,1.001,.1).forEach(t=>gr.append("stop").attr("offset",t).attr("stop-color",fn(1-t)));
 g.append("rect").attr("x",x).attr("y",y0).attr("width",15).attr("height",y1-y0).attr("fill",`url(#${id})`);
 g.append("text").text(title).attr("x",x).attr("y",titleY).attr("dominant-baseline","middle").attr("font-family",SERIF).attr("font-weight","bold").attr("font-size",12);
 ticks.forEach(t=>{
  g.append("line").attr("x1",x).attr("x2",x+3).attr("y1",t[1]).attr("y2",t[1]).attr("stroke","#fff");
  g.append("line").attr("x1",x+12).attr("x2",x+15).attr("y1",t[1]).attr("y2",t[1]).attr("stroke","#fff");
  g.append("text").text(t[0]).attr("x",x+20).attr("y",t[1]).attr("dominant-baseline","middle").attr("font-family",SERIF).attr("font-size",13);});
}
function heatPanel(c){
 const g=svg.append("g"),n=c.dens.length;
 const x=d3.scaleBand().domain(d3.range(n)).range([c.x0,c.x1]);
 const y=d3.scaleLinear().domain([0,3]).range(c.y0y3);
 g.append("text").text("Distribution as heatmap").attr("x",(c.x0+c.x1)/2-1).attr("y",c.title+1.5).attr("text-anchor","middle").attr("dominant-baseline","middle").attr("font-family",SERIF).attr("font-size",19);
 c.dens.forEach((s,i)=>{const id=`g${c.id}${i}`;
  const gr=defs.append("linearGradient").attr("id",id).attr("gradientUnits","userSpaceOnUse").attr("x1",0).attr("x2",0).attr("y1",y(3)).attr("y2",y(-3));
  s.split("").forEach((ch,k)=>gr.append("stop").attr("offset",(3-densLevels[k])/6).attr("stop-color",densCol(+ch)));
  g.append("rect").attr("x",x(i)).attr("y",c.top).attr("width",x.bandwidth()+.4).attr("height",c.bottom-c.top).attr("fill",`url(#${id})`);});
 qKeys.forEach(k=>{
  g.append("path").attr("d",d3.line().x((d,i)=>x(i)+x.bandwidth()/2).y(d=>y(d))(c.q[k])).attr("fill","none").attr("stroke",k=="mean"?"#8B0A14":"#000").attr("stroke-width",1.3).attr("stroke-dasharray","4 3.5");});
 g.append("rect").attr("x",c.x0).attr("y",c.top).attr("width",c.x1-c.x0).attr("height",c.bottom-c.top).attr("fill","none").attr("stroke","#222").attr("stroke-width",1.2);
 const ay=g.append("g").attr("transform",`translate(${c.x0},0)`).call(d3.axisLeft(y).tickValues([-3,-2,-1,0,1,2,3]).tickFormat(d3.format("d")).tickSize(7).tickPadding(5));
 ay.select(".domain").remove();ay.selectAll("text").attr("font-family",SERIF).attr("font-size",14);ay.selectAll("line").attr("stroke","#222");
 const link=d3.linkHorizontal();
 qKeys.forEach((k,i)=>{const v=c.q[k][n-1];
  g.append("path").attr("d",link({source:[c.x1,y(v)],target:[c.x1+19,c.qy[i]]})).attr("fill","none").attr("stroke","#111").attr("stroke-width",1);
  g.append("text").text(qNames[i]).attr("x",c.x1+24).attr("y",c.qy[i]+1).attr("dominant-baseline","middle").attr("font-family",SERIF).attr("font-size",13);});
 // group bar
 d3.range(n).forEach(i=>g.append("rect").attr("x",x(i)).attr("y",c.gy[0]).attr("width",x.bandwidth()+.4).attr("height",c.gy[1]-c.gy[0]).attr("fill",i<c.nCase?"#B5202E":"#134684"));
 g.append("text").text("Group").attr("x",c.x1+4.5).attr("y",(c.gy[0]+c.gy[1])/2+1.5).attr("dominant-baseline","middle").attr("font-family",SERIF).attr("font-size",16);
 // cells
 const ry=d3.scaleBand().domain(c.genes).range(c.hy);
 c.cells.forEach((s,r)=>s.split("").forEach((ch,i)=>g.append("rect").attr("x",x(i)).attr("y",ry(c.genes[r])).attr("width",x.bandwidth()+.4).attr("height",ry.bandwidth()+.4).attr("fill",heatCol((+ch-4)/2))));
 c.genes.forEach(t=>g.append("text").text(t).attr("x",c.x1+4.5).attr("y",ry(t)+ry.bandwidth()/2+1.5).attr("dominant-baseline","middle").attr("font-family",SERIF).attr("font-size",12));
 // dendrogram
 const hx=d3.scaleLinear().domain([0,176]).range([c.x0-.5,693]);
 (function rec(nd){ if(typeof nd==="string")return{x:hx(0),y:ry(nd)+ry.bandwidth()/2};
  const a=rec(nd[1]),b=rec(nd[2]),X=hx(nd[0]);
  g.append("path").attr("d",`M${a.x},${a.y}H${X}V${b.y}H${b.x}`).attr("fill","none").attr("stroke","#222").attr("stroke-width",1);
  return{x:X,y:(a.y+b.y)/2};})(c.tree);
 // legends
 colorBar(g,"dl"+c.id,1197,c.lg.d[0],c.lg.d[1],t=>d3.interpolateSpectral(1-t),c.lg.dt,"density",c.lg.dtitle);
 g.append("text").text("Group").attr("x",1197).attr("y",c.lg.gtitle).attr("dominant-baseline","middle").attr("font-family",SERIF).attr("font-weight","bold").attr("font-size",12);
 c.lg.gs.forEach((s,i)=>{g.append("rect").attr("x",1197).attr("y",s[0]).attr("width",15).attr("height",s[1]-s[0]).attr("fill",i?"#134684":"#B5202E");
  g.append("text").text(c.lg.gn[i]).attr("x",1217).attr("y",(s[0]+s[1])/2+1).attr("dominant-baseline","middle").attr("font-family",SERIF).attr("font-size",12);});
 colorBar(g,"el"+c.id,1197,c.lg.e[0],c.lg.e[1],t=>heatCol(-2+4*t),c.lg.et,"expression",c.lg.etitle);
}
heatPanel({id:"B",x0:751.8,x1:1124.6,top:85.7,bottom:318,y0y3:[208.2,101.4],title:68,dens:densB,q:qB,qy:[137,164.5,205,226,248,270],nCase:39,gy:[326,345.6],hy:[353.6,585.5],genes:genesB,cells:cellsB,tree:treeB,
 lg:{d:[201.7,284],dt:[["0.8",205],["0.6",224],["0.4",242.6],["0.2",261.8],["0",281]],dtitle:189.4,gtitle:304,gs:[[317,331],[332.5,347]],gn:["AK1","control"],e:[381,463],et:[["2",383.5],["1",402.6],["0",421],["−1",441],["−2",460]],etitle:368.5}});
heatPanel({id:"D",x0:751.8,x1:1127,top:679,bottom:912,y0y3:[796.3,703],title:661,dens:densD,q:qD,qy:[729,750.8,787,808.6,839,860.6],nCase:53,gy:[919.6,938.7],hy:[946.7,1179],genes:genesD,cells:cellsD,tree:treeD,
 lg:{d:[795,877.5],dt:[["0.6",798.6],["0.4",824],["0.2",849],["0",874.4]],dtitle:783.3,gtitle:897.7,gs:[[910.8,925],[926.4,940.6]],gn:["CKD","Control"],e:[974.3,1056],et:[["2",977],["1",996.5],["0",1015],["−1",1034.7],["−2",1053.5]],etitle:962}});

// ---------- Venn ----------
function venn(v,id,cy){
 const g=svg.append("g"),cx=[1482,1681.6],r=149;
 const lab=[1462,1581.8,1701.6];
 g.append("circle").attr("cx",cx[0]).attr("cy",cy).attr("r",r).attr("fill","#FFD7D7");
 g.append("circle").attr("cx",cx[1]).attr("cy",cy).attr("r",r).attr("fill","#D9F2E6");
 defs.append("clipPath").attr("id",id).append("circle").attr("cx",cx[0]).attr("cy",cy).attr("r",r);
 g.append("circle").attr("cx",cx[1]).attr("cy",cy).attr("r",r).attr("fill","#D8DDD2").attr("stroke","#fff").attr("stroke-width",1.5).attr("clip-path",`url(#${id})`);
 defs.append("clipPath").attr("id",id+"b").append("circle").attr("cx",cx[1]).attr("cy",cy).attr("r",r);
 g.append("circle").attr("cx",cx[0]).attr("cy",cy).attr("r",r).attr("fill","none").attr("stroke","#fff").attr("stroke-width",1.5).attr("clip-path",`url(#${id}b)`);
 [[v.a,lab[0],"#FFA9A9"],[v.b,lab[2],"#AEE8CC"]].forEach(d=>g.append("text").text(d[0]).attr("x",d[1]).attr("y",cy-188).attr("text-anchor","middle").attr("dominant-baseline","middle").attr("font-family",SANS).attr("font-size",25.5).attr("fill",d[2]));
 v.n.forEach((t,i)=>{[[t,-12.2],[v.p[i],13.2]].forEach(d=>g.append("text").text(d[0]).attr("x",lab[i]).attr("y",cy+d[1]).attr("text-anchor","middle").attr("dominant-baseline","middle").attr("font-family",SANS).attr("font-size",16.2));});
}
venn(vennE,"vE",337.5);venn(vennF,"vF",937.5);

// ---------- Treemaps ----------
const pScale=d3.scaleLinear().domain(pTicks.map(Number).map(v=>v+.000005)).range(pColors).clamp(true);
function treemap(tree,x0,y0,x1,y1,colorFn){
 const g=svg.append("g");
 const root=d3.hierarchy(tree).sum(d=>d.n||0);
 d3.treemap().tile(d3.treemapSliceDice).size([x1-x0,y1-y0])(root);
 root.leaves().forEach(l=>{const d=l.data;
  g.append("rect").attr("x",x0+l.x0).attr("y",y0+l.y0).attr("width",l.x1-l.x0).attr("height",l.y1-l.y0).attr("fill",colorFn(d.p)).attr("stroke","#000").attr("stroke-width",2.4);
  const cy=y0+(l.y0+l.y1)/2+1,cx=x0+(l.x0+l.x1)/2;
  d.lines.forEach((t,i)=>g.append("text").text(t).attr("x",cx).attr("y",cy+(i-(d.lines.length-1)/2)*d.lh).attr("text-anchor","middle").attr("dominant-baseline","middle").attr("font-family",SANS).attr("font-weight","bold").attr("font-size",d.fs).attr("fill",d.w?"#fff":"#000"));});
}
function titleText(t,x,y,fs){svg.append("text").text(t).attr("x",x).attr("y",y).attr("text-anchor","middle").attr("dominant-baseline","middle").attr("font-family",SANS).attr("font-size",fs);}
titleText("GO",567.5,1286,24);
treemap(goTree,80.8,1307.8,1055.4,1780,pScale);
const pBand=d3.scaleBand().domain(pTicks).range([203.8,931.8]);
pTicks.forEach((t,i)=>{svg.append("rect").attr("x",pBand(t)).attr("y",1813.9).attr("width",pBand.bandwidth()).attr("height",13.9).attr("fill",pColors[i]).attr("stroke","#222").attr("stroke-width",1);
 titleText(t,pBand(t)+pBand.bandwidth()/2,1838.9,17.5);});
titleText("pvalue",567.5,1864,21);
titleText("KEGG",545.5,1911.5,24.5);
treemap(keggTree,59,1932,1033.5,2405,()=>"#006837");
svg.append("rect").attr("x",505).attr("y",2438.7).attr("width",81.5).attr("height",14.5).attr("fill","#0E7B44").attr("stroke","#222").attr("stroke-width",1);
titleText("4e−04",545.8,2463.5,17.8);titleText("pvalue",545.8,2489,21);

// ---------- Network ----------
const nx=d3.scaleLinear().domain([0,1568]).range([1150,1750]),ny=d3.scaleLinear().domain([0,1568]).range([1420,2320]);
const idx=Object.fromEntries(nodes.map((n,i)=>[n,i]));
const net=svg.append("g");
net.selectAll("line").data(edges).join("line").attr("x1",d=>nx(nodeX[idx[d[0]]])).attr("y1",d=>ny(nodeY[idx[d[0]]])).attr("x2",d=>nx(nodeX[idx[d[1]]])).attr("y2",d=>ny(nodeY[idx[d[1]]])).attr("stroke","#8a8a8a").attr("stroke-width",2.8);
net.selectAll("ellipse").data(nodes).join("ellipse").attr("cx",(d,i)=>nx(nodeX[i])).attr("cy",(d,i)=>ny(nodeY[i])).attr("rx",25.3).attr("ry",30).attr("fill","#DFF3DD");
net.selectAll("text").data(nodes).join("text").text(d=>d).attr("x",(d,i)=>nx(nodeLabelX[i])-1.5).attr("y",(d,i)=>ny(nodeY[i])+1).attr("text-anchor","middle").attr("dominant-baseline","middle").attr("font-family",SANS).attr("font-size",20.2);
</script></body></html>
